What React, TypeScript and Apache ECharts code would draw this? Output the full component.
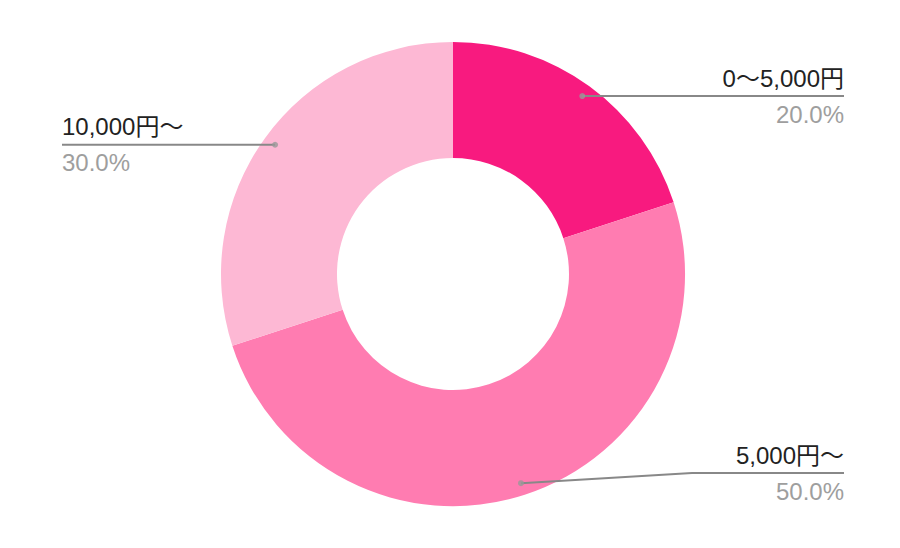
import React, { useEffect, useRef } from "react";
import * as echarts from "echarts";

const categories = ["0〜5,000円", "5,000円〜", "10,000円〜"];
const values = [20, 50, 30];
const colors = ["#F81A7F", "#FF7CB1", "#FDB8D4"];

const CX = 453;
const CY = 274;
const R_OUT = 232;
const R_IN = 116;
const DOT_RATIO = 0.948;
const RIGHT_EDGE = 844;
const LEFT_EDGE = 62;
const LABEL_MAX_Y = 473;
const BEND = 152;
const FONT = "'Liberation Sans', Arial, 'Noto Sans CJK JP', sans-serif";

export default function App() {
  const ref = useRef<HTMLDivElement>(null);
  useEffect(() => {
    if (!ref.current) return;
    const chart = echarts.init(ref.current, undefined, { renderer: "svg" });
    const total = values.reduce((a, b) => a + b, 0);
    const mids: number[] = [];
    let acc = 0;
    values.forEach((v) => {
      mids.push(acc + v / 2);
      acc += v;
    });

    const pieData = categories.map((c, i) => ({
      name: c,
      value: values[i],
      itemStyle: { color: colors[i] },
    }));

    chart.setOption({
      animation: false,
      backgroundColor: "#ffffff",
      polar: { center: [CX, CY], radius: R_OUT },
      angleAxis: {
        type: "value",
        min: 0,
        max: total,
        startAngle: 90,
        clockwise: true,
        show: false,
      },
      radiusAxis: { type: "value", min: 0, max: 1, show: false },
      series: [
        {
          type: "pie",
          z: 2,
          center: [CX, CY],
          radius: [R_IN, R_OUT],
          startAngle: 90,
          clockwise: true,
          data: pieData,
          itemStyle: { borderWidth: 0 },
          emphasis: { disabled: true },
          label: { show: false },
          labelLine: { show: false },
        },
        {
          type: "pie",
          z: 4,
          silent: true,
          center: [CX, CY],
          radius: [R_IN, R_OUT],
          startAngle: 90,
          clockwise: true,
          data: pieData.map((d) => ({ ...d, itemStyle: { color: "rgba(0,0,0,0)" } })),
          itemStyle: { borderWidth: 0 },
          emphasis: { disabled: true },
          label: {
            show: true,
            position: "outside",
            fontFamily: FONT,
            formatter: (p: any) => `{n|${p.name}}\n{p|${p.percent.toFixed(1)}%}`,
            rich: {
              n: { fontSize: 24, color: "#222222", lineHeight: 36, fontFamily: FONT },
              p: { fontSize: 24, color: "#9E9E9E", lineHeight: 36, fontFamily: FONT },
            },
          },
          labelLine: {
            show: true,
            length: 10,
            length2: 10,
            lineStyle: { color: "#888888", width: 2 },
          },
          labelLayout: (params: any) => {
            const i = params.dataIndex;
            const ang = (mids[i] / total) * Math.PI * 2;
            const dx = CX + R_OUT * DOT_RATIO * Math.sin(ang);
            const dy = CY - R_OUT * DOT_RATIO * Math.cos(ang);
            const isRight = Math.sin(ang) > 0;
            const lineY = Math.min(dy, LABEL_MAX_Y);
            const edgeX = isRight ? RIGHT_EDGE : LEFT_EDGE;
            const bendX = isRight ? edgeX - BEND : edgeX + BEND;
            return {
              x: edgeX,
              y: lineY,
              align: isRight ? "right" : "left",
              verticalAlign: "middle",
              labelLinePoints: [
                [dx, dy],
                [bendX, lineY],
                [edgeX, lineY],
              ],
            };
          },
        },
        {
          type: "scatter",
          coordinateSystem: "polar",
          z: 6,
          symbol: "circle",
          symbolSize: 6,
          itemStyle: { color: "#999999" },
          silent: true,
          data: mids.map((m) => [DOT_RATIO, m]),
        },
      ],
    });
    return () => chart.dispose();
  }, []);
  return <div ref={ref} style={{ width: 900, height: 548, margin: -8 }} />;
}
